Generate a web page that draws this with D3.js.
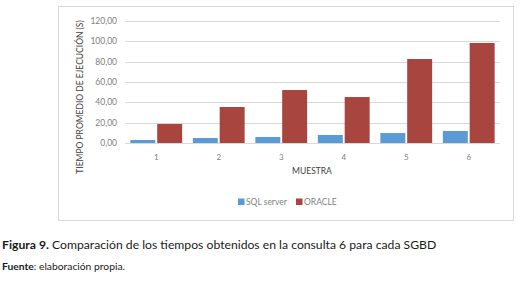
<!DOCTYPE html>
<html>
<head>
<meta charset="utf-8">
<script src="https://cdn.jsdelivr.net/npm/d3@7"></script>
<style>
  body { margin: 0; background: #fff; }
  text { font-family: "Lato", "DejaVu Sans", sans-serif; }
</style>
</head>
<body>
<svg id="chart" width="521" height="284"></svg>
<script>
// values
const muestras = ["1", "2", "3", "4", "5", "6"];
const sqlServer = [3.0, 4.9, 5.9, 7.9, 9.8, 11.8];
const oracle = [18.7, 35.4, 52.1, 45.2, 82.6, 98.4];
const yTicks = [0, 20, 40, 60, 80, 100, 120];
const series = ["SQL server", "ORACLE"];
const colors = ["#5B9BD5", "#A8453F"];

const svg = d3.select("#chart");

// chart frame
svg.append("rect")
    .attr("x", 58.5).attr("y", 6.5)
    .attr("width", 455).attr("height", 214)
    .attr("fill", "#fff").attr("stroke", "#d9d9d9");

const x = d3.scaleBand().domain(muestras).range([125, 500]);
const x1 = d3.scaleBand().domain(series).range([0, x.bandwidth()]).paddingInner(0.07).paddingOuter(0.2);
const y = d3.scaleLinear().domain([0, 120]).range([143, 21]);

const fmt = v => d3.format(".2f")(v).replace(".", ",");

// gridlines
svg.append("g").selectAll("line").data(yTicks).join("line")
    .attr("x1", 125).attr("x2", 500)
    .attr("y1", d => Math.round(y(d)) + 0.5).attr("y2", d => Math.round(y(d)) + 0.5)
    .attr("stroke", "#d9d9d9");

// y axis labels
svg.append("g").selectAll("text").data(yTicks).join("text")
    .attr("x", 117).attr("y", d => y(d))
    .attr("dy", "0.35em")
    .attr("text-anchor", "end")
    .attr("font-size", 8.5).attr("fill", "#7f7f7f")
    .text(fmt);

// x axis labels
svg.append("g").selectAll("text").data(muestras).join("text")
    .attr("x", d => x(d) + x.bandwidth() / 2)
    .attr("y", 157)
    .attr("dy", "0.35em")
    .attr("text-anchor", "middle")
    .attr("font-size", 8).attr("fill", "#7f7f7f")
    .text(d => d);

// bars
const vals = [sqlServer, oracle];
const groups = svg.append("g").selectAll("g").data(series).join("g")
    .attr("fill", (d, i) => colors[i]);
groups.selectAll("rect")
    .data((s, i) => muestras.map((m, j) => ({m, v: vals[i][j], s})))
    .join("rect")
    .attr("x", d => x(d.m) + x1(d.s))
    .attr("width", x1.bandwidth())
    .attr("y", d => y(d.v))
    .attr("height", d => y(0) - y(d.v));

// axis titles
svg.append("text")
    .attr("transform", "translate(83,97) rotate(-90)")
    .attr("text-anchor", "middle")
    .attr("font-size", 8.5).attr("fill", "#404040")
    .text("TIEMPO PROMEDIO DE EJECUCIÓN (S)");

svg.append("text")
    .attr("x", 312).attr("y", 171).attr("dy", "0.35em")
    .attr("text-anchor", "middle")
    .attr("font-size", 8.5).attr("fill", "#404040")
    .text("MUESTRA");

// legend
const legX = [238, 296];
const leg = svg.append("g").selectAll("g").data(series).join("g")
    .attr("transform", (d, i) => `translate(${legX[i]},202)`);
leg.append("rect").attr("x", 0).attr("y", -3.5).attr("width", 6.5).attr("height", 6.5)
    .attr("fill", (d, i) => colors[i]);
leg.append("text").attr("x", 8).attr("y", 0).attr("dy", "0.35em")
    .attr("font-size", 8.5).attr("fill", "#7f7f7f")
    .text(d => d);

// caption
const cap = svg.append("text").attr("x", 2).attr("y", 249)
    .attr("font-size", 12.2).attr("fill", "#1a1a1a");
cap.append("tspan").attr("font-weight", "bold").text("Figura 9.");
cap.append("tspan").text(" Comparación de los tiempos obtenidos en la consulta 6 para cada SGBD");

const src = svg.append("text").attr("x", 2).attr("y", 270)
    .attr("font-size", 10.3).attr("fill", "#1a1a1a");
src.append("tspan").attr("font-weight", "bold").text("Fuente");
src.append("tspan").text(": elaboración propia.");
</script>
</body>
</html>
